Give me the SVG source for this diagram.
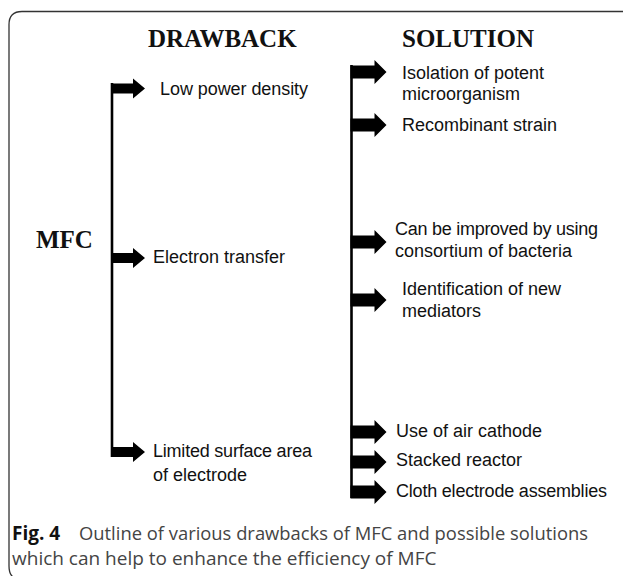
<svg xmlns="http://www.w3.org/2000/svg" xmlns:xlink="http://www.w3.org/1999/xlink" width="623" height="576" viewBox="0 0 623 576">
<style>
.head{font-family:"Liberation Serif","Times New Roman",serif;font-weight:bold;font-size:25px;fill:#111}
.lbl{font-family:"Liberation Sans",Arial,sans-serif;font-size:18px;fill:#111}
.cap{font-family:"Open Sans","Liberation Sans",sans-serif;font-size:19px;fill:#444}
.capb{font-weight:bold;fill:#111}
.conn{stroke:#000;stroke-width:2.6;fill:none}
.frame{stroke:#333;stroke-width:1.3;fill:none}
</style>
<defs>
<polygon id="arL" points="0,-5 22,-5 22,-10 34,0 22,10 22,5 0,5" fill="#000"/>
<polygon id="arR" points="0,-6.5 24,-6.5 24,-12 36,0 24,12 24,6.5 0,6.5" fill="#000"/>
</defs>
<rect width="623" height="576" fill="#fff"/>
<path class="frame" d="M623,11.5 H22 Q9,11.5 9,24.5 V566 Q9,574 13,577"/>
<text class="head" x="148" y="47">DRAWBACK</text>
<text class="head" x="402" y="47">SOLUTION</text>
<g id="connectors">
<line class="conn" x1="112" y1="83" x2="112" y2="457"/>
<line class="conn" x1="351.5" y1="65" x2="351.5" y2="498"/>
<use xlink:href="#arL" x="111" y="88.5"/>
<use xlink:href="#arL" x="111" y="258"/>
<use xlink:href="#arL" x="111" y="452"/>
<use xlink:href="#arR" x="350.5" y="72"/>
<use xlink:href="#arR" x="350.5" y="125"/>
<use xlink:href="#arR" x="350.5" y="242"/>
<use xlink:href="#arR" x="350.5" y="300"/>
<use xlink:href="#arR" x="350.5" y="432"/>
<use xlink:href="#arR" x="350.5" y="462"/>
<use xlink:href="#arR" x="350.5" y="492"/>
</g>
<g id="mfc"><text class="head" x="36" y="248">MFC</text></g>
<g id="low-power"><text class="lbl" x="160" y="95" textLength="148">Low power density</text></g>
<g id="electron-transfer"><text class="lbl" x="153" y="263" textLength="132">Electron transfer</text></g>
<g id="limited-surface"><text class="lbl" x="153" y="457" textLength="159">Limited surface area</text><text class="lbl" x="153" y="481">of electrode</text></g>
<g id="isolation"><text class="lbl" x="402" y="79">Isolation of potent</text><text class="lbl" x="402" y="100">microorganism</text></g>
<g id="recombinant"><text class="lbl" x="402" y="131">Recombinant strain</text></g>
<g id="consortium"><text class="lbl" x="395" y="235" textLength="203">Can be improved by using</text><text class="lbl" x="395" y="257">consortium of bacteria</text></g>
<g id="mediators"><text class="lbl" x="402" y="295">Identification of new</text><text class="lbl" x="402" y="317">mediators</text></g>
<g id="air-cathode"><text class="lbl" x="396" y="437">Use of air cathode</text></g>
<g id="stacked"><text class="lbl" x="396" y="466">Stacked reactor</text></g>
<g id="cloth"><text class="lbl" x="396" y="497" textLength="211">Cloth electrode assemblies</text></g>
<g id="caption">
<text class="cap capb" x="12" y="540">Fig. 4</text>
<text class="cap" x="79" y="540" textLength="509" lengthAdjust="spacingAndGlyphs">Outline of various drawbacks of MFC and possible solutions</text>
<text class="cap" x="12" y="565">which can help to enhance the efficiency of MFC</text>
</g>
</svg>
